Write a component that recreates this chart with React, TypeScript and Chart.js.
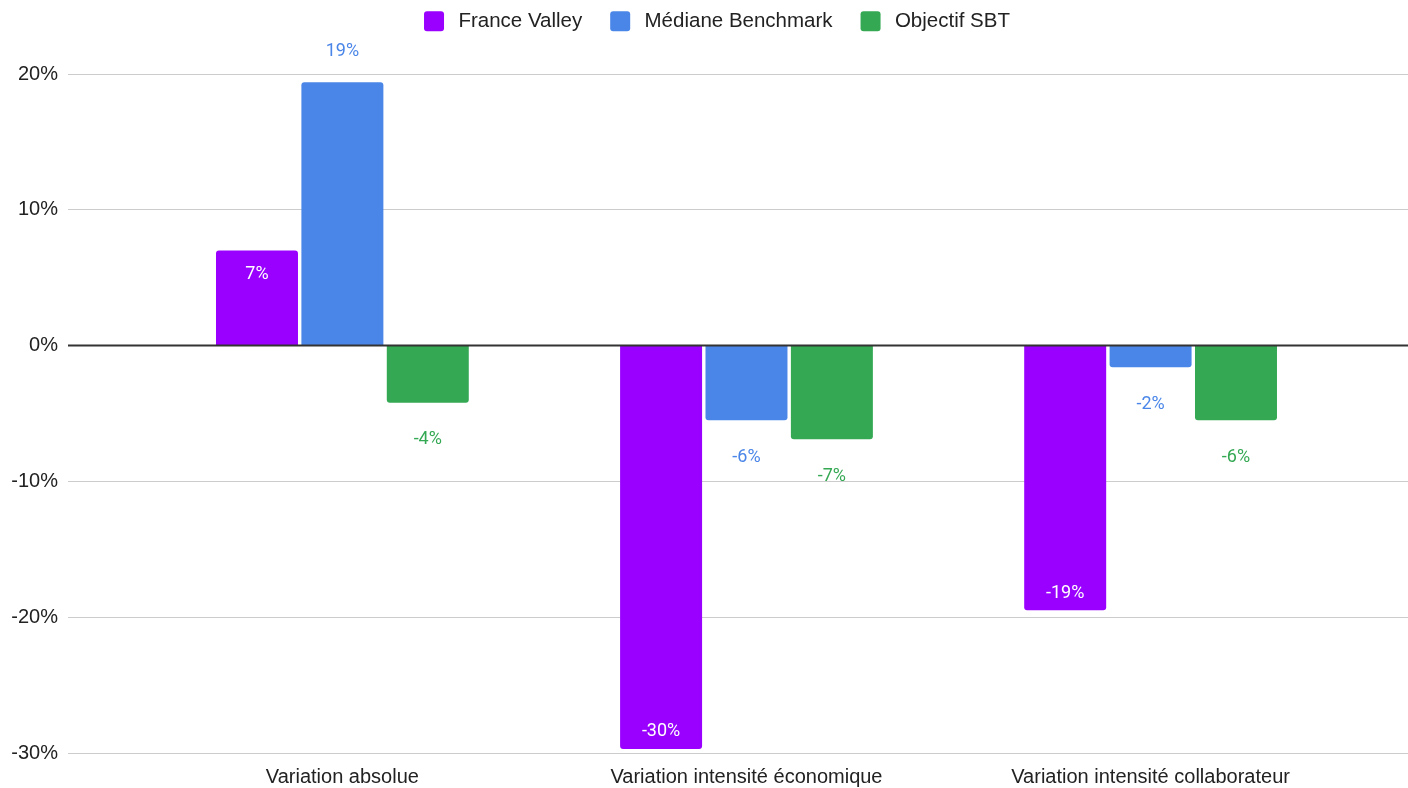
import { useEffect, useRef } from "react";
import { Chart, registerables } from "chart.js";

Chart.register(...registerables);

// ---- data ----
const categories = [
  "Variation absolue",
  "Variation intensité économique",
  "Variation intensité collaborateur",
];
const seriesNames = ["France Valley", "Médiane Benchmark", "Objectif SBT"];
const franceValley = [7.0, -29.7, -19.49];
const medianeBenchmark = [19.4, -5.5, -1.6];
const objectifSBT = [-4.2, -6.9, -5.5];
const yTickValues = [-30, -20, -10, 0, 10, 20];

// ---- styles ----
const seriesColors = ["#9900ff", "#4a86e8", "#34a853"];
const AXIS_FONT = "'Liberation Sans', Arial, sans-serif";
const LABEL_FONT = "Roboto, 'Liberation Sans', Arial, sans-serif";

const seriesValues = [franceValley, medianeBenchmark, objectifSBT];

const fmtPct = (v: number) => (v < 0 ? "-" : "") + Math.round(Math.abs(v)) + "%";

const overlayPlugin = {
  id: "overlay",
  afterLayout(chart: any) {
    const lg = chart.legend;
    if (lg) {
      lg.top -= 32.5;
      lg.bottom -= 32.5;
      lg.left += 13;
      lg.right += 13;
    }
  },
  afterDatasetsDraw(chart: any) {
    const ctx = chart.ctx;
    const ys = chart.scales.y;
    const area = chart.chartArea;
    const zy = ys.getPixelForValue(0);
    ctx.save();
    ctx.strokeStyle = "#333333";
    ctx.lineWidth = 2;
    ctx.beginPath();
    ctx.moveTo(area.left, zy);
    ctx.lineTo(area.right, zy);
    ctx.stroke();

    ctx.font = `18px ${LABEL_FONT}`;
    ctx.textAlign = "center";
    ctx.textBaseline = "middle";
    chart.data.datasets.forEach((_ds: any, di: number) => {
      const meta = chart.getDatasetMeta(di);
      meta.data.forEach((bar: any, i: number) => {
        const v = seriesValues[di][i];
        const { x, y } = bar.getProps(["x", "y"], true);
        let ly: number;
        if (di === 0) {
          ctx.fillStyle = "#ffffff";
          ly = v >= 0 ? y + 24 : y - 17;
        } else {
          ctx.fillStyle = seriesColors[di];
          ly = v >= 0 ? y - 31 : y + 37;
        }
        ctx.fillText(fmtPct(v), x, ly);
      });
    });
    ctx.restore();
  },
};

export default function App() {
  const canvasRef = useRef<HTMLCanvasElement | null>(null);

  useEffect(() => {
    if (!canvasRef.current) return;
    const chart = new Chart(canvasRef.current, {
      type: "bar",
      data: {
        datasets: seriesNames.map((name, di) => ({
          label: "\u2009" + name,
          data: seriesValues[di].map((v, i) => ({ x: i, y: v })),
          backgroundColor: seriesColors[di],
          borderWidth: 0,
          borderRadius: 3,
          barPercentage: 0.96,
          categoryPercentage: 0.634,
        })),
      },
      options: {
        responsive: false,
        animation: false,
        devicePixelRatio: 1,
        layout: { padding: { top: 15.5, left: 0, right: 0, bottom: 0 } },
        plugins: {
          tooltip: { enabled: false },
          legend: {
            position: "top",
            labels: {
              boxWidth: 20,
              boxHeight: 20,
              padding: 28,
              color: "#222222",
              font: { family: AXIS_FONT, size: 20.5 },
              useBorderRadius: true,
              borderRadius: 3,
            },
          },
        },
        scales: {
          x: {
            type: "linear",
            min: -0.679,
            max: 2.637,
            offset: false,
            grid: { display: false, drawTicks: false },
            border: { display: false },
            afterBuildTicks: (s: any) => {
              s.ticks = categories.map((_c, i) => ({ value: i }));
            },
            afterFit: (s: any) => {
              s.height = 35;
            },
            ticks: {
              autoSkip: false,
              maxRotation: 0,
              padding: 12,
              color: "#222222",
              font: { family: AXIS_FONT, size: 20 },
              callback: (v: any) => categories[v] ?? "",
            },
          },
          y: {
            type: "linear",
            min: -30,
            max: 20,
            afterBuildTicks: (s: any) => {
              s.ticks = yTickValues.map((v) => ({ value: v }));
            },
            afterFit: (s: any) => {
              s.width = 68;
            },
            grid: {
              color: (c: any) => (c.tick && c.tick.value === 0 ? "rgba(0,0,0,0)" : "#cccccc"),
              lineWidth: 1,
              drawTicks: false,
            },
            border: { display: false },
            ticks: {
              padding: 10,
              color: "#222222",
              font: { family: AXIS_FONT, size: 20 },
              callback: (v: any) => v + "%",
            },
          },
        },
      } as any,
      plugins: [overlayPlugin],
    });
    return () => chart.destroy();
  }, []);

  return (
    <div style={{ position: "fixed", left: 0, top: 0, width: 1408, height: 788, background: "#ffffff" }}>
      <canvas ref={canvasRef} width={1408} height={788} style={{ display: "block" }} />
    </div>
  );
}
